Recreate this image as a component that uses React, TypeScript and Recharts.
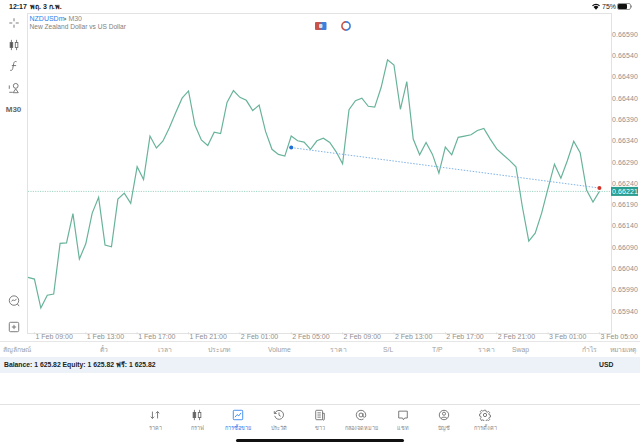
import React from 'react';
import {
  ComposedChart,
  Line,
  XAxis,
  YAxis,
  ReferenceLine,
} from 'recharts';

const closes = [
  0.66019, 0.66015, 0.65947, 0.65977, 0.6598, 0.66099, 0.661, 0.66169, 0.66062, 0.66098,
  0.6617, 0.66207, 0.66095, 0.66091, 0.66203, 0.66217, 0.66193, 0.66279, 0.66249, 0.66351,
  0.66323, 0.66339, 0.6637, 0.66406, 0.6644, 0.66457, 0.66377, 0.66342, 0.66329, 0.6636,
  0.66357, 0.6643, 0.66458, 0.66442, 0.66435, 0.66411, 0.66424, 0.66362, 0.6632, 0.66308,
  0.66304, 0.66351, 0.6634, 0.66337, 0.6632, 0.6634, 0.66346, 0.66336, 0.66314, 0.66286,
  0.66413, 0.66434, 0.6644, 0.66421, 0.66419, 0.66465, 0.6653, 0.66518, 0.66414, 0.66479,
  0.66344, 0.66307, 0.66336, 0.66308, 0.66264, 0.66325, 0.66307, 0.66348, 0.66351, 0.66354,
  0.66364, 0.66369, 0.66344, 0.66321, 0.66307, 0.66294, 0.66279, 0.66185, 0.66104, 0.66123,
  0.6617, 0.66228, 0.66285, 0.66252, 0.66293, 0.66339, 0.66312, 0.66224, 0.66196, 0.66221,
];

const timeTickBars = [1, 9, 17, 25, 33, 41, 49, 57, 65, 73, 81, 89];
const timeTickLabels = [
  '1 Feb 09:00', '1 Feb 13:00', '1 Feb 17:00', '1 Feb 21:00', '2 Feb 01:00', '2 Feb 05:00',
  '2 Feb 09:00', '2 Feb 13:00', '2 Feb 17:00', '2 Feb 21:00', '3 Feb 01:00', '3 Feb 05:00',
];
const priceTicks = [
  0.6659, 0.6654, 0.6649, 0.6644, 0.6639, 0.6634, 0.6629, 0.6624, 0.6619, 0.6614, 0.6609,
  0.6604, 0.6599, 0.6594,
];
const lastPrice = 0.66221;

const tradeOpenBar = 41;
const tradeOpenPrice = 0.66324;
const tradeCloseBar = 89;
const tradeClosePrice = 0.66229;

const tableHeads: [string, number][] = [
  ['สัญลักษณ์', 3], ['ตั๋ว', 100], ['เวลา', 158], ['ประเภท', 208], ['Volume', 268], ['ราคา', 330],
  ['S/L', 383], ['T/P', 432], ['ราคา', 478], ['Swap', 512], ['กำไร', 582], ['หมายเหตุ', 610],
];
const navLabels = ['ราคา', 'กราฟ', 'การซื้อขาย', 'ประวัติ', 'ข่าว', 'กล่องจดหมาย', 'แชท', 'บัญชี', 'การตั้งค่า'];

const rows = closes.map((close, bar) => ({
  bar,
  close,
  trade: bar === tradeOpenBar ? tradeOpenPrice : bar === tradeCloseBar ? tradeClosePrice : null,
}));

const FONT = '"Liberation Sans", "Noto Sans", sans-serif';
const GREEN = '#68b39a';
const BLUE = '#2f80ed';

const TimeTick = (props: any) => {
  const { x, y, payload } = props;
  const label = timeTickLabels[timeTickBars.indexOf(payload.value)];
  return (
    <text x={x + 1} y={y + 3} textAnchor="start" fontSize={7} fill="#8f8f8f" fontFamily={FONT}>
      {label}
    </text>
  );
};

const PriceTick = (props: any) => {
  const { x, y, payload } = props;
  const isLast = payload.value === lastPrice;
  return (
    <g>
      {isLast && <rect x={x + 1} y={y - 4.5} width={27} height={9} fill="#2a9d8f" />}
      <text
        x={x + 2}
        y={y + 2.5}
        fontSize={7}
        letterSpacing={0.1}
        fill={isLast ? '#ffffff' : '#8f8f8f'}
        fontFamily={FONT}
      >
        {payload.value.toFixed(5)}
      </text>
    </g>
  );
};

const TradeDot = (props: any) => {
  const { cx, cy, payload } = props;
  if (payload.trade == null) return null;
  return <circle key={payload.bar} cx={cx} cy={cy} r={2} fill={payload.bar === tradeOpenBar ? '#1f6fd6' : '#d0342c'} />;
};

const Txt = ({ x, y, size = 7, color = '#8a8a8a', weight = 400, center = false, children }: any) => (
  <div
    style={{
      position: 'absolute',
      left: x,
      top: y,
      fontSize: size,
      lineHeight: '10px',
      color,
      fontWeight: weight,
      whiteSpace: 'nowrap',
      transform: center ? 'translateX(-50%)' : undefined,
    }}
  >
    {children}
  </div>
);

const Icon = ({ x, y, w = 12, h = 12, color = '#666', children }: any) => (
  <svg
    style={{ position: 'absolute', left: x - w / 2, top: y - h / 2 }}
    width={w}
    height={h}
    viewBox="0 0 14 14"
    fill="none"
    stroke={color}
    strokeWidth={1}
  >
    {children}
  </svg>
);

const candles = (
  <>
    <path d="M4 1v12M10 1v12" />
    <rect x="2.5" y="4" width="3" height="6" fill="currentColor" />
    <rect x="8.5" y="4" width="3" height="6" fill="#fff" />
  </>
);

const navIcons = [
  <path d="M4 3v8M2 9l2 2 2-2M10 11V3M8 5l2-2 2 2" />,
  candles,
  <>
    <rect x="1.5" y="1.5" width="11" height="11" rx="1" />
    <path d="M3.5 9.5l2.5-3 2 1.5 2.5-3.5" />
  </>,
  <>
    <path d="M2.2 5a5.2 5.2 0 1 1-.2 3" />
    <path d="M1.5 2.5V5.3h2.8M7 4v3.3l2 1.2" />
  </>,
  <>
    <rect x="2" y="1.5" width="8" height="11" rx="1" />
    <path d="M4 4.5h4M4 7h4M4 9.5h4M10 5h2v7a1 1 0 0 1-2 0" />
  </>,
  <>
    <circle cx="7" cy="7" r="2.3" />
    <path d="M9.3 5v3a1.6 1.6 0 0 0 3.2 0V7A5.5 5.5 0 1 0 10 11.6" />
  </>,
  <path d="M2 2.5h10v8H9l-1.5 2-1-2H2z" />,
  <>
    <circle cx="7" cy="7" r="5.5" />
    <circle cx="7" cy="5.5" r="1.8" />
    <path d="M3.5 11c1-2 6-2 7 0" />
  </>,
  <>
    <circle cx="7" cy="7" r="1.9" />
    <path d="M6 1.5h2l.3 1.6 1.4.6 1.4-.9 1.3 1.4-.9 1.3.6 1.5 1.4.3v2l-1.4.3-.6 1.4.9 1.3-1.3 1.3-1.4-.9-1.4.6-.3 1.4H6l-.3-1.4-1.4-.6-1.4.9L1.6 11l.9-1.3-.6-1.4L.5 8V6l1.4-.3.6-1.5-.9-1.3L2.9 1.5l1.4.9 1.4-.6z" />
  </>,
];
const navCenters = [155, 197, 238, 279, 320, 361, 403, 444, 485];

const App: React.FC = () => {
  return (
    <div
      style={{
        position: 'absolute',
        left: 0,
        top: 0,
        width: 640,
        height: 447,
        background: '#fff',
        overflow: 'hidden',
        fontFamily: FONT,
      }}
    >
      {/* chart frame */}
      <div
        style={{
          position: 'absolute',
          left: 27,
          top: 13,
          width: 583,
          height: 319,
          border: '1px solid #e2e2e2',
        }}
      />
      <div style={{ position: 'absolute', left: 0, top: 0 }}>
        <ComposedChart
          width={640}
          height={447}
          data={rows}
          margin={{ top: 13.5, right: 0, left: 28, bottom: 94.7 }}
        >
          <XAxis
            type="number"
            dataKey="bar"
            domain={[0, 90.65]}
            ticks={timeTickBars}
            interval={0}
            height={20}
            axisLine={false}
            tickLine={{ stroke: '#dcdcdc' }}
            tickSize={2}
            tick={<TimeTick />}
          />
          <YAxis
            orientation="right"
            width={30}
            domain={[0.6589, 0.66639]}
            ticks={[...priceTicks, lastPrice]}
            interval={0}
            allowDataOverflow
            axisLine={false}
            tickLine={false}
            tickSize={0}
            tickMargin={0}
            tick={<PriceTick />}
          />
          <ReferenceLine y={lastPrice} stroke="#7cc4ad" strokeOpacity={0.9} strokeDasharray="1.2 1.2" strokeWidth={0.8} />
          <Line
            dataKey="close"
            type="linear"
            stroke={GREEN}
            strokeWidth={1.2}
            dot={false}
            isAnimationActive={false}
          />
          <Line
            dataKey="trade"
            type="linear"
            connectNulls
            stroke="#7fb3e6"
            strokeWidth={1}
            strokeDasharray="1.5 1.5"
            dot={<TradeDot />}
            activeDot={false}
            isAnimationActive={false}
          />
        </ComposedChart>
      </div>

      {/* status bar */}
      <Txt x={9} y={2} size={7} color="#222" weight={700}>12:17</Txt>
      <Txt x={30} y={2} size={7} color="#222" weight={700}>พฤ. 3 ก.พ.</Txt>
      <svg style={{ position: 'absolute', left: 592, top: 3 }} width={8} height={7} viewBox="0 0 8 7">
        <path d="M0 2.4a5.6 5.6 0 0 1 8 0L7.1 3.3a4.4 4.4 0 0 0-6.2 0zM1.5 4a3.5 3.5 0 0 1 5 0L4 6.8z" fill="#111" />
      </svg>
      <Txt x={602} y={2} size={7} color="#222">75%</Txt>
      <svg style={{ position: 'absolute', left: 617, top: 3 }} width={16} height={7} viewBox="0 0 16 7">
        <rect x="0.5" y="0.5" width="13" height="6" rx="1.5" fill="none" stroke="#999" />
        <rect x="1" y="1" width="9" height="5" rx="1" fill="#111" />
        <rect x="14" y="2.5" width="1" height="2" fill="#999" />
      </svg>

      {/* symbol header */}
      <Txt x={29.5} y={14} size={7} color={BLUE}>NZDUSDm</Txt>
      <Txt x={64} y={14} size={7} color="#8a8a8a">• M30</Txt>
      <Txt x={29.5} y={22} size={6.6} color="#808080">New Zealand Dollar vs US Dollar</Txt>

      {/* chart type badges */}
      <svg style={{ position: 'absolute', left: 314, top: 21 }} width={40} height={10} viewBox="0 0 40 10">
        <rect x="1" y="1" width="6.5" height="8" rx="1" fill="#c9524a" />
        <rect x="6.5" y="1" width="6" height="8" rx="1" fill="#3d7fdc" />
        <rect x="5" y="3" width="3.5" height="4" rx="1" fill="#d6dfea" />
        <path d="M32 0.9a4.1 4.1 0 0 0 0 8.2" fill="none" stroke="#c9524a" strokeWidth="1.6" />
        <path d="M32 0.9a4.1 4.1 0 0 1 0 8.2" fill="none" stroke="#3d7fdc" strokeWidth="1.6" />
      </svg>

      {/* left toolbar */}
      <Icon x={13.5} y={23}>
        <path d="M7 1.5v3.5M7 9v3.5M1.5 7H5M9 7h3.5" />
      </Icon>
      <div style={{ color: '#555' }}>
        <Icon x={13.5} y={45}>{candles}</Icon>
      </div>
      <Icon x={13.5} y={66}>
        <path d="M10 2c-2-.8-3 .3-3.3 2L5.5 10c-.3 1.7-1.3 2.5-3 2M4.5 6.5h5" />
      </Icon>
      <Icon x={13.5} y={88}>
        <circle cx="9" cy="4.5" r="2.8" />
        <path d="M1.5 4v4M1.5 12h4M9 8l3 4.5H6z" />
      </Icon>
      <Txt x={13.5} y={105} size={8} color="#666" weight={700} center>M30</Txt>
      <Icon x={13.5} y={301}>
        <circle cx="7" cy="6.5" r="5.5" />
        <path d="M4 7.5l2-2 1.5 1.5 2.5-2.5M11 10.5l2 2.5" />
      </Icon>
      <Icon x={13.5} y={327}>
        <rect x="1.5" y="1.5" width="11" height="11" rx="1.5" />
        <path d="M7 4.5v5M4.5 7h5" />
      </Icon>

      {/* table */}
      <div style={{ position: 'absolute', left: 0, top: 341, width: 640, height: 1, background: '#e6e6e6' }} />
      {tableHeads.map(([label, x], i) => (
        <Txt key={i} x={x} y={344.5} size={6.8} color="#a0a0a0">{label}</Txt>
      ))}
      <div style={{ position: 'absolute', left: 0, top: 357, width: 640, height: 16, background: '#edf2f8' }} />
      <Txt x={4} y={360} size={6.8} color="#222" weight={700}>Balance: 1 625.82 Equity: 1 625.82 ฟรี: 1 625.82</Txt>
      <Txt x={599} y={360} size={6.8} color="#222" weight={700}>USD</Txt>

      {/* bottom nav */}
      <div style={{ position: 'absolute', left: 0, top: 404, width: 640, height: 1, background: '#e2e2e2' }} />
      {navCenters.map((cx, i) => (
        <div key={i} style={{ color: '#666' }}>
          <Icon x={cx} y={415} color={i === 2 ? BLUE : '#666'}>{navIcons[i]}</Icon>
          <Txt x={cx} y={422.5} size={5.5} color={i === 2 ? BLUE : '#888'} center>{navLabels[i]}</Txt>
        </div>
      ))}
      <div style={{ position: 'absolute', left: 236, top: 439, width: 168, height: 3, borderRadius: 2, background: '#111' }} />
    </div>
  );
};

export default App;
